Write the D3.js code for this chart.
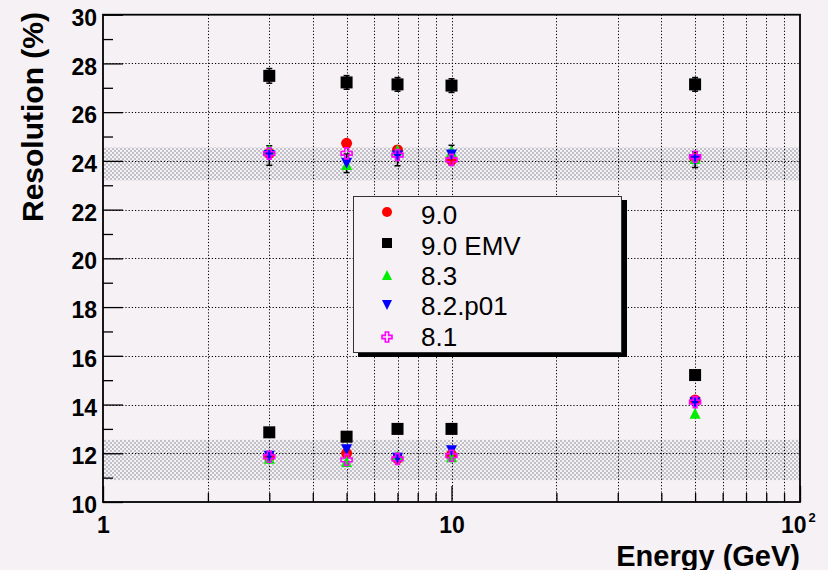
<!DOCTYPE html>
<html>
<head>
<meta charset="utf-8">
<script src="https://cdn.jsdelivr.net/npm/d3@7.9.0/dist/d3.min.js"></script>
<style>
  body { margin: 0; background: #f5f1f5; }
  svg { display: block; font-family: "Liberation Sans", Arial, sans-serif; }
</style>
</head>
<body>
<svg id="chart" width="828" height="570"></svg>
<script>
// beam energies (GeV)
const energies = [3, 5, 7, 10, 50];

// upper group (~24%) and lower group (~12%) for each release
const res90_hi    = [24.31, 24.72, 24.45, 24.04, 24.10];
const res90_lo    = [11.85, 12.00, 11.78, 11.93, 14.19];
const res90emv_hi = [27.49, 27.22, 27.14, 27.09, 27.14];
const res90emv_lo = [12.86, 12.68, 13.00, 13.00, 15.21];
const res83_hi    = [24.45, 23.85, 24.45, 24.40, 24.10];
const res83_lo    = [11.80, 11.66, 11.90, 11.86, 13.64];
const res82_hi    = [24.22, 23.90, 24.20, 24.24, 24.05];
const res82_lo    = [11.88, 12.14, 11.80, 12.10, 14.07];
const res81_hi    = [24.30, 24.31, 24.24, 24.04, 24.17];
const res81_lo    = [11.86, 11.73, 11.77, 11.90, 14.10];

// errors (only a few are visible)
const err82_hi    = [0.40, 0.38, 0.40, 0.40, 0.32];
const err90emv_hi = [0.30, 0.28, 0.28, 0.28, 0.28];

const seriesNames = ["9.0", "9.0 EMV", "8.3", "8.2.p01", "8.1"];

// reference bands
const bands = [[23.2, 24.55], [10.9, 12.55]];

const yMajor = [10, 12, 14, 16, 18, 20, 22, 24, 26, 28, 30];
const yMinor = [11, 13, 15, 17, 19, 21, 23, 25, 27, 29];
const xMajor = [1, 10, 100];
const xMinor = [2, 3, 4, 5, 6, 7, 8, 9, 20, 30, 40, 50, 60, 70, 80, 90];

const series = [
  { name: seriesNames[0], hi: res90_hi, lo: res90_lo, color: "#ff0000", shape: "circle" },
  { name: seriesNames[1], hi: res90emv_hi, lo: res90emv_lo, color: "#000000", shape: "square", err: err90emv_hi },
  { name: seriesNames[2], hi: res83_hi, lo: res83_lo, color: "#00ee00", shape: "tri" },
  { name: seriesNames[3], hi: res82_hi, lo: res82_lo, color: "#0000ff", shape: "trid", err: err82_hi },
  { name: seriesNames[4], hi: res81_hi, lo: res81_lo, color: "#ff00ff", shape: "cross" }
];

const svg = d3.select("#chart");
const fLeft = 103, fRight = 800, fTop = 14.7, fBottom = 502;

const x = d3.scaleLog().domain([1, 100]).range([fLeft, fRight]);
const y = d3.scaleLinear().domain([10, 30]).range([fBottom, fTop]);

// stipple pattern for bands
const defs = svg.append("defs");
const pat = defs.append("pattern")
  .attr("id", "stip").attr("width", 4).attr("height", 4)
  .attr("patternUnits", "userSpaceOnUse");
pat.append("rect").attr("x", 0).attr("y", 0).attr("width", 2).attr("height", 2).attr("fill", "#c0c0c8");
pat.append("rect").attr("x", 2).attr("y", 2).attr("width", 2).attr("height", 2).attr("fill", "#c0c0c8");

svg.selectAll("rect.band")
  .data(bands)
  .enter()
  .append("rect")
  .attr("class", "band")
  .attr("x", fLeft)
  .attr("width", fRight - fLeft)
  .attr("y", d => y(d[1]))
  .attr("height", d => y(d[0]) - y(d[1]))
  .attr("fill", "url(#stip)");

// grid
const grid = svg.append("g")
  .attr("stroke", "#000")
  .attr("stroke-width", 1)
  .attr("stroke-dasharray", "1.2,2");
grid.selectAll("line.gy")
  .data(yMajor.slice(1, -1))
  .enter().append("line")
  .attr("x1", fLeft).attr("x2", fRight)
  .attr("y1", d => Math.round(y(d)) + 0.5).attr("y2", d => Math.round(y(d)) + 0.5);
grid.selectAll("line.gx")
  .data(xMinor.concat([10]))
  .enter().append("line")
  .attr("y1", fTop).attr("y2", fBottom)
  .attr("x1", d => Math.round(x(d)) + 0.5).attr("x2", d => Math.round(x(d)) + 0.5);

// axes
const yAxis = svg.append("g")
  .attr("transform", `translate(${fLeft},0)`)
  .call(d3.axisLeft(y).tickValues(yMajor).tickSize(-20).tickPadding(6).tickFormat(d3.format("d")));
svg.append("g")
  .attr("transform", `translate(${fLeft},0)`)
  .call(d3.axisLeft(y).tickValues(yMinor).tickSize(-10).tickFormat(""));

const xAxis = svg.append("g")
  .attr("transform", `translate(0,${fBottom})`)
  .call(d3.axisBottom(x).tickValues(xMajor).tickSize(-16).tickPadding(15).tickFormat(d => d === 100 ? "10" : String(d)));
svg.append("g")
  .attr("transform", `translate(0,${fBottom})`)
  .call(d3.axisBottom(x).tickValues(xMinor).tickSize(-9).tickFormat(""));

svg.selectAll(".domain").remove();
svg.selectAll(".tick line").attr("stroke", "#000").attr("stroke-width", 1.3);
svg.selectAll(".tick text")
  .attr("fill", "#000")
  .style("font-size", "23px")
  .style("font-weight", "bold");
yAxis.selectAll(".tick text").attr("dy", "0.46em");

// 10^2 label: base shifted left, exponent as its own text
const t100 = xAxis.selectAll(".tick").filter(d => d === 100);
t100.select("text").attr("text-anchor", "end").attr("x", 6);
t100.append("text")
  .attr("x", 8).attr("y", 20)
  .attr("fill", "#000")
  .style("font-size", "13px").style("font-weight", "bold")
  .attr("text-anchor", "start")
  .text("2");

// frame
svg.append("rect")
  .attr("x", fLeft).attr("y", fTop)
  .attr("width", fRight - fLeft).attr("height", fBottom - fTop)
  .attr("fill", "none").attr("stroke", "#000").attr("stroke-width", 1.8);

// titles
svg.append("text")
  .attr("x", fRight).attr("y", 565.5)
  .attr("text-anchor", "end")
  .style("font-size", "29px").style("font-weight", "bold")
  .text("Energy (GeV)");
svg.append("text")
  .attr("transform", "translate(43,12) rotate(-90)")
  .attr("text-anchor", "end")
  .style("font-size", "30px").style("font-weight", "bold")
  .text("Resolution (%)");

// marker drawing
function drawMarker(g, shape, color, s) {
  const h = s / 2;
  if (shape === "circle") {
    g.append("circle").attr("r", h).attr("fill", color);
  } else if (shape === "square") {
    g.append("rect").attr("x", -h).attr("y", -h).attr("width", s).attr("height", s).attr("fill", color);
  } else if (shape === "tri") {
    g.append("path").attr("d", `M0,${-h}L${h},${h}L${-h},${h}Z`).attr("fill", color);
  } else if (shape === "trid") {
    g.append("path").attr("d", `M0,${h}L${h},${-h}L${-h},${-h}Z`).attr("fill", color);
  } else if (shape === "cross") {
    const t = s / 6;
    g.append("path")
      .attr("d", `M${-t},${-h}H${t}V${-t}H${h}V${t}H${t}V${h}H${-t}V${t}H${-h}V${-t}H${-t}Z`)
      .attr("fill", "none").attr("stroke", color).attr("stroke-width", 1.6);
  }
}

// error bars (black)
const errG = svg.append("g").attr("stroke", "#000").attr("stroke-width", 1.5);
series.filter(s => s.err).forEach(s => {
  energies.forEach((e, i) => {
    const cx = x(e), y0 = y(s.hi[i] - s.err[i]), y1 = y(s.hi[i] + s.err[i]);
    errG.append("line").attr("x1", cx).attr("x2", cx).attr("y1", y0).attr("y2", y1);
    errG.append("line").attr("x1", cx - 3).attr("x2", cx + 3).attr("y1", y0).attr("y2", y0);
    errG.append("line").attr("x1", cx - 3).attr("x2", cx + 3).attr("y1", y1).attr("y2", y1);
  });
});

// points
series.forEach(s => {
  const pts = energies.map((e, i) => [e, s.hi[i]]).concat(energies.map((e, i) => [e, s.lo[i]]));
  pts.forEach(p => {
    const g = svg.append("g").attr("transform", `translate(${x(p[0])},${y(p[1])})`);
    drawMarker(g, s.shape, s.color, s.shape === "square" ? 12 : 11);
  });
});

// legend
const lg = svg.append("g");
lg.append("rect").attr("x", 358).attr("y", 200).attr("width", 269).attr("height", 157).attr("fill", "#000");
lg.append("rect").attr("x", 353.5).attr("y", 196.5).attr("width", 268).attr("height", 156)
  .attr("fill", "#f5f1f5").attr("stroke", "#333").attr("stroke-width", 1);
const markerY = [212, 243, 275, 305, 337];
const textY = [224, 255, 285, 315, 346];
series.forEach((s, i) => {
  const g = lg.append("g").attr("transform", `translate(387,${markerY[i]})`);
  drawMarker(g, s.shape, s.color, 10);
  lg.append("text")
    .attr("x", 421).attr("y", textY[i])
    .style("font-size", "26px")
    .text(s.name);
});
</script>
</body>
</html>
